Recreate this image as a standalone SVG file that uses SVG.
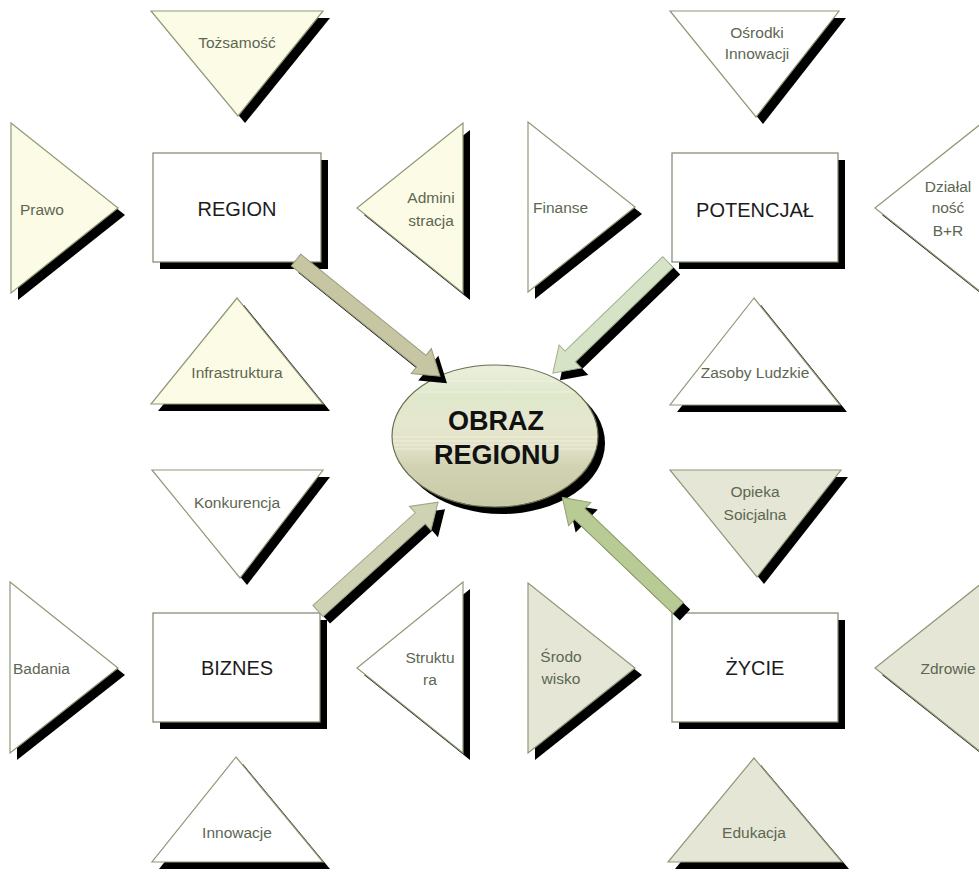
<svg xmlns="http://www.w3.org/2000/svg" width="979" height="873" viewBox="0 0 979 873">
<defs>
<linearGradient id="eg" x1="0" y1="0" x2="0" y2="1">
<stop offset="0" stop-color="#ebefdc"/>
<stop offset="0.22" stop-color="#dfe8cb"/>
<stop offset="0.42" stop-color="#e6e7cf"/>
<stop offset="0.6" stop-color="#dfdfc4"/>
<stop offset="0.72" stop-color="#d1d2b2"/>
<stop offset="1" stop-color="#c9caa6"/>
</linearGradient>
<clipPath id="ec">
<ellipse cx="495" cy="436" rx="103" ry="71"/>
</clipPath>
</defs>
<style>
.sh{fill:#000;stroke:none}
.tc{fill:#fcfce6;stroke:#8e9a78;stroke-width:1.2}
.tw{fill:#ffffff;stroke:#8e9a78;stroke-width:1.2}
.tg{fill:#e5e6d5;stroke:#8e9a78;stroke-width:1.2}
.bx{fill:#ffffff;stroke:#7b876a;stroke-width:1.2}
.lt{font-family:"Liberation Sans",Arial,sans-serif;font-size:15.5px;fill:#5d6652}
.lb{font-family:"Liberation Sans",Arial,sans-serif;font-size:20px;fill:#1c1c1c;text-anchor:middle}
.mid{text-anchor:middle}
.ct{font-family:"Liberation Sans",Arial,sans-serif;font-size:27px;font-weight:bold;fill:#111;text-anchor:middle}
.ar{stroke-width:1}
.st{stroke:#f3f3e6;stroke-width:1;opacity:0.8}
</style>

<!-- REGION quadrant -->
<g id="tozsamosc">
<polygon class="sh" transform="translate(7 7)" points="151,11 323,11 238,116"/>
<polygon class="tc" points="151,11 323,11 238,116"/>
<text class="lt mid" x="237" y="48">Tożsamość</text>
</g>
<g id="prawo">
<polygon class="sh" transform="translate(7 7)" points="11,123 118,208 11,293"/>
<polygon class="tc" points="11,123 118,208 11,293"/>
<text class="lt" x="20" y="215">Prawo</text>
</g>
<g id="administracja">
<polygon class="sh" transform="translate(7 7)" points="357,208 463,123 463,293"/>
<polygon class="tc" points="357,208 463,123 463,293"/>
<text class="lt mid" x="431" y="203">Admini</text>
<text class="lt mid" x="431" y="226">stracja</text>
</g>
<g id="infrastruktura">
<polygon class="sh" transform="translate(7 7)" points="237,298 151,404 323,404"/>
<polygon class="tc" points="237,298 151,404 323,404"/>
<text class="lt mid" x="237" y="378">Infrastruktura</text>
</g>
<g id="region">
<rect class="sh" x="160" y="160" width="168" height="109"/>
<rect class="bx" x="153" y="153" width="168" height="109"/>
<text class="lb" x="237" y="216">REGION</text>
</g>

<!-- POTENCJAŁ quadrant -->
<g id="osrodki">
<polygon class="sh" transform="translate(7 7)" points="670,11 839,11 756,117"/>
<polygon class="tw" points="670,11 839,11 756,117"/>
<text class="lt mid" x="757" y="38">Ośrodki</text>
<text class="lt mid" x="757" y="59">Innowacji</text>
</g>
<g id="finanse">
<polygon class="sh" transform="translate(7 7)" points="528,122 635,207 528,292"/>
<polygon class="tw" points="528,122 635,207 528,292"/>
<text class="lt" x="533" y="213">Finanse</text>
</g>
<g id="dzialalnosc">
<polygon class="sh" transform="translate(7 7)" points="875,208 982,123 982,293"/>
<polygon class="tw" points="875,208 982,123 982,293"/>
<text class="lt mid" x="948" y="192">Działal</text>
<text class="lt mid" x="948" y="213">ność</text>
<text class="lt mid" x="948" y="236">B+R</text>
</g>
<g id="zasoby">
<polygon class="sh" transform="translate(7 7)" points="754,298 670,405 840,405"/>
<polygon class="tw" points="754,298 670,405 840,405"/>
<text class="lt mid" x="755" y="378">Zasoby Ludzkie</text>
</g>
<g id="potencjal">
<rect class="sh" x="679" y="160" width="166" height="109"/>
<rect class="bx" x="672" y="153" width="166" height="109"/>
<text class="lb" x="755" y="217">POTENCJAŁ</text>
</g>

<!-- BIZNES quadrant -->
<g id="konkurencja">
<polygon class="sh" transform="translate(7 7)" points="152,470 323,470 240,578"/>
<polygon class="tw" points="152,470 323,470 240,578"/>
<text class="lt mid" x="237" y="508">Konkurencja</text>
</g>
<g id="badania">
<polygon class="sh" transform="translate(7 7)" points="10,582 118,668 10,753"/>
<polygon class="tw" points="10,582 118,668 10,753"/>
<text class="lt" x="13" y="674">Badania</text>
</g>
<g id="struktura">
<polygon class="sh" transform="translate(7 7)" points="357,668 463,582 463,753"/>
<polygon class="tw" points="357,668 463,582 463,753"/>
<text class="lt mid" x="430" y="663">Struktu</text>
<text class="lt mid" x="430" y="685">ra</text>
</g>
<g id="innowacje">
<polygon class="sh" transform="translate(7 7)" points="236,757 152,862 323,862"/>
<polygon class="tw" points="236,757 152,862 323,862"/>
<text class="lt mid" x="237" y="838">Innowacje</text>
</g>
<g id="biznes">
<rect class="sh" x="160" y="620" width="167" height="109"/>
<rect class="bx" x="153" y="613" width="167" height="109"/>
<text class="lb" x="237" y="675">BIZNES</text>
</g>

<!-- ŻYCIE quadrant -->
<g id="opieka">
<polygon class="sh" transform="translate(7 7)" points="670,470 841,470 757,577"/>
<polygon class="tg" points="670,470 841,470 757,577"/>
<text class="lt mid" x="755" y="497">Opieka</text>
<text class="lt mid" x="755" y="520">Soicjalna</text>
</g>
<g id="srodowisko">
<polygon class="sh" transform="translate(7 7)" points="528,583 635,668 528,753"/>
<polygon class="tg" points="528,583 635,668 528,753"/>
<text class="lt mid" x="561" y="662">Środo</text>
<text class="lt mid" x="561" y="684">wisko</text>
</g>
<g id="zdrowie">
<polygon class="sh" transform="translate(7 7)" points="875,668 982,583 982,753"/>
<polygon class="tg" points="875,668 982,583 982,753"/>
<text class="lt mid" x="948" y="674">Zdrowie</text>
</g>
<g id="edukacja">
<polygon class="sh" transform="translate(7 7)" points="754,758 668,862 842,862"/>
<polygon class="tg" points="754,758 668,862 842,862"/>
<text class="lt mid" x="754" y="838">Edukacja</text>
</g>
<g id="zycie">
<rect class="sh" x="679" y="620" width="166" height="109"/>
<rect class="bx" x="672" y="613" width="166" height="109"/>
<text class="lb" x="755" y="675">ŻYCIE</text>
</g>

<!-- Center -->
<g id="obraz-regionu">
<ellipse class="sh" cx="502" cy="443" rx="103" ry="71"/>
<ellipse cx="495" cy="436" rx="103" ry="71" fill="url(#eg)"/>
<g clip-path="url(#ec)">
<line class="st" x1="380" y1="381" x2="610" y2="381"/>
<line class="st" x1="380" y1="392" x2="610" y2="392"/>
<line class="st" x1="380" y1="437" x2="610" y2="437"/>
<line class="st" x1="380" y1="441" x2="610" y2="441"/>
<line class="st" x1="380" y1="445" x2="610" y2="445"/>
<line class="st" x1="380" y1="449" x2="610" y2="449"/>
</g>
<ellipse cx="495" cy="436" rx="103" ry="71" fill="none" stroke="#6a7050" stroke-width="1.2"/>
<text class="ct" x="496" y="430">OBRAZ</text>
<text class="ct" x="497" y="464">REGIONU</text>
</g>

<!-- Connectors -->
<g id="connectors">
<g transform="translate(296 260) rotate(38.9)">
<polygon class="sh" transform="rotate(-38.9) translate(7 7) rotate(38.9)" points="0,-7.5 161,-7.5 161,-16 185,0 161,16 161,7.5 0,7.5"/>
<polygon class="ar" fill="#c6c6a2" stroke="#9a9a7e" points="0,-7.5 161,-7.5 161,-16 185,0 161,16 161,7.5 0,7.5"/>
</g>
<g transform="translate(668 262) rotate(136)">
<polygon class="sh" transform="rotate(-136) translate(7 7) rotate(136)" points="0,-7.5 136,-7.5 136,-16 160,0 136,16 136,7.5 0,7.5"/>
<polygon class="ar" fill="#d7e3c7" stroke="#9fae8a" points="0,-7.5 136,-7.5 136,-16 160,0 136,16 136,7.5 0,7.5"/>
</g>
<g transform="translate(318 611) rotate(-42.2)">
<polygon class="sh" transform="rotate(42.2) translate(7 7) rotate(-42.2)" points="0,-7.5 138,-7.5 138,-16 162,0 138,16 138,7.5 0,7.5"/>
<polygon class="ar" fill="#d0d3b3" stroke="#a0a488" points="0,-7.5 138,-7.5 138,-16 162,0 138,16 138,7.5 0,7.5"/>
</g>
<g transform="translate(678 608) rotate(-136.3)">
<polygon class="sh" transform="rotate(136.3) translate(7 7) rotate(-136.3)" points="0,-7.5 136,-7.5 136,-16 160,0 136,16 136,7.5 0,7.5"/>
<polygon class="ar" fill="#b9cb95" stroke="#8fa070" points="0,-7.5 136,-7.5 136,-16 160,0 136,16 136,7.5 0,7.5"/>
</g>
</g>
</svg>
